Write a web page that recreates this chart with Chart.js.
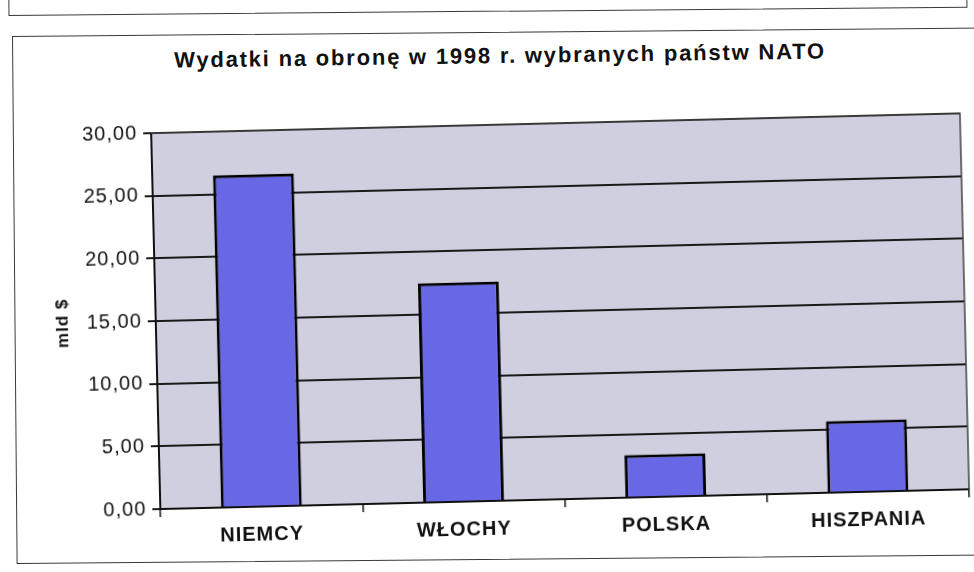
<!DOCTYPE html>
<html>
<head>
<meta charset="utf-8">
<script src="https://cdn.jsdelivr.net/npm/chart.js@4/dist/chart.umd.min.js"></script>
<style>
  html, body { margin: 0; padding: 0; background: #fff; overflow: hidden; width: 974px; height: 572px; }
  .box { position: absolute; border: 1.5px solid #3a3a3a; transform-origin: 0 0; transform: rotate(-0.5deg); }
  #prev { left: 8px; top: -40px; width: 957px; height: 54px; }
  #frame { left: 12px; top: 36px; width: 1000px; height: 526px; }
  #title {
    position: absolute; left: 0; top: 44px; width: 1000px; text-align: center;
    font: bold 22px "Liberation Sans", Arial, sans-serif; letter-spacing: 1.8px;
    line-height: 24px; color: #111; transform: rotate(-0.8deg);
  }
  #wrap { position: absolute; left: 0; top: 0; width: 974px; height: 572px; transform: rotate(-1.4deg); }
</style>
</head>
<body>
<div class="box" id="prev"></div>
<div class="box" id="frame"></div>
<div id="title">Wydatki na obronę w 1998 r. wybranych państw NATO</div>
<div id="wrap"><canvas id="chart" width="974" height="572"></canvas></div>
<script>
const categories = ["NIEMCY", "WŁOCHY", "POLSKA", "HISZPANIA"];
const spending = [26.5, 17.5, 3.4, 5.7];
const yTicks = [0, 5, 10, 15, 20, 25, 30];
const yLabel = "mld $";

const family = "'Liberation Sans', Arial, sans-serif";
const ink = "#111";

// scanned Excel text is a bit wider than plain Arial
const spacing = {
  id: "spacing",
  beforeUpdate(chart) { chart.ctx.letterSpacing = "1px"; },
  beforeLayout(chart) { chart.ctx.letterSpacing = "1px"; },
  beforeDraw(chart) { chart.ctx.letterSpacing = "1px"; },
};

const plotArea = {
  id: "plotArea",
  beforeDraw(chart) {
    const {ctx, chartArea: a} = chart;
    ctx.save();
    ctx.fillStyle = "#cfcfdf";
    ctx.fillRect(a.left, a.top, a.right - a.left, a.bottom - a.top);
    ctx.restore();
  },
  afterDraw(chart) {
    const {ctx, chartArea: a} = chart;
    ctx.save();
    ctx.strokeStyle = "#444";
    ctx.lineWidth = 1.5;
    ctx.beginPath();
    ctx.moveTo(a.left, a.top);
    ctx.lineTo(a.right, a.top);
    ctx.lineTo(a.right, a.bottom);
    ctx.stroke();
    ctx.restore();
  },
};

const ctx = document.getElementById("chart").getContext("2d");
const chart = new Chart(ctx, {
  type: "bar",
  data: {
    labels: categories,
    datasets: [{
      data: spending,
      backgroundColor: "#6868e6",
      borderColor: "#000",
      borderWidth: 3,
      barPercentage: 0.4,
      categoryPercentage: 1,
    }],
  },
  options: {
    responsive: false,
    animation: false,
    layout: {padding: {left: 0, right: 10, top: 125, bottom: 31}},
    plugins: {
      legend: {display: false},
      tooltip: {enabled: false},
      title: {display: false},
    },
    scales: {
      x: {
        grid: {
          drawOnChartArea: false, drawTicks: true, tickLength: 8,
          color: ink, lineWidth: 1.5, offset: true,
        },
        border: {display: true, color: ink, width: 2},
        ticks: {
          color: ink, padding: 8, maxRotation: 0, autoSkip: false,
          font: {family: family, size: 20, weight: "bold"},
        },
        afterFit(scale) { scale.height = 40; },
      },
      y: {
        min: yTicks[0],
        max: yTicks[yTicks.length - 1],
        ticks: {
          stepSize: yTicks[1] - yTicks[0],
          color: ink, padding: 6,
          font: {family: family, size: 20},
          callback: (v) => v.toFixed(2).replace(".", ","),
        },
        grid: {color: "#1a1a1a", lineWidth: 2, tickLength: 8, drawTicks: true},
        border: {display: true, color: ink, width: 2},
        title: {
          display: true, text: yLabel, color: ink,
          font: {family: family, size: 17, weight: "bold"},
          padding: {top: 52, bottom: 0},
        },
        afterFit(scale) { scale.width = 155; },
      },
    },
  },
  plugins: [spacing, plotArea],
});
</script>
</body>
</html>
